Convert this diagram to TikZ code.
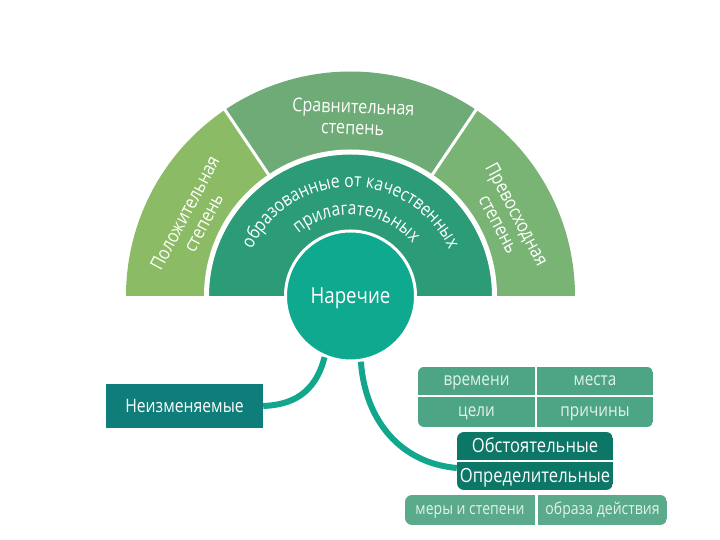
\documentclass[tikz,border=0pt]{standalone}
\usepackage{fontspec}
\setmainfont{Open Sans}[FakeStretch=0.85]
\usetikzlibrary{decorations.text}
\definecolor{secL}{HTML}{8CBB65}
\definecolor{secM}{HTML}{6EAB77}
\definecolor{secR}{HTML}{79B475}
\definecolor{ringc}{HTML}{2C9C78}
\definecolor{circc}{HTML}{0FA98F}
\definecolor{linkc}{HTML}{12A68C}
\definecolor{neizc}{HTML}{0F7D79}
\definecolor{cellc}{HTML}{4EA586}
\definecolor{obstc}{HTML}{0C7667}
\definecolor{lowc}{HTML}{5AAA8B}
\definecolor{celltext}{HTML}{E2F3EB}
\tikzset{
  seclabel/.style={text=white, align=center, font=\fontsize{19}{21}\selectfont, inner sep=0pt},
  vc/.style={text height=#1, text depth=0pt},
  cellbox/.style={vc=9.6pt, fill=cellc, text=celltext, inner sep=0pt, font=\fontsize{18}{18}\selectfont},
  lowbox/.style={vc=8.8pt, fill=lowc, text=celltext, inner sep=0pt, font=\fontsize{16.5}{16.5}\selectfont},
  obstbox/.style={vc=13.9pt, fill=obstc, text=white, inner sep=0pt, minimum width=156pt, minimum height=28pt, font=\fontsize{19.5}{19.5}\selectfont},
  link/.style={draw=linkc, line width=6pt}
}
\begin{document}
\begin{tikzpicture}[x=1pt,y=1pt]
\useasboundingbox (0,0) rectangle (720,540);
\fill[white] (0,0) rectangle (720,540);
% outer sectors
\fill[secR] (350.5,244) -- (575,244) arc (0:56:224.5) -- cycle;
\fill[secM] (350.5,244) -- ++(56:224.5) arc (56:124:224.5) -- cycle;
\fill[secL] (350.5,244) -- ++(124:224.5) arc (124:180:224.5) -- cycle;
\draw[white, line width=3pt] (350.5,244) -- ++(56:228);
\draw[white, line width=3pt] (350.5,244) -- ++(124:228);
% middle ring
\fill[ringc] (209,244) arc (180:0:141.5) -- cycle;
\draw[white, line width=5pt] (206.5,244) arc (180:0:144);
% sector labels
\node[seclabel, rotate=-2] (sr) at (353,423) {Сравнительная\\степень};
\node[seclabel, rotate=62] (pol) at (194,322) {Положительная\\степень};
\node[seclabel, rotate=-62] (prev) at (508,321) {Превосходная\\степень};
% arc text
\path[decorate, decoration={text along path, text align=center,
  text={|\fontsize{18.5}{18.5}\selectfont\color{white}|образованные от качественных}}]
  (241.5,244) arc (180:0:109);
\path[decorate, decoration={text along path, text align=center,
  text={|\fontsize{18.5}{18.5}\selectfont\color{white}|прилагательных}}]
  (269.8,251.1) arc (175:-5:81);
% central circle
\node[circle, vc=15.7pt, fill=circc, draw=white, line width=3pt, minimum size=130pt, inner sep=0pt,
  text=white, font=\fontsize{22}{22}\selectfont] (nar) at (350.5,244) {Наречие};
% left box
\node[vc=13.2pt, fill=neizc, text=white, minimum width=157pt, minimum height=44pt, inner sep=0pt,
  font=\fontsize{18.5}{18.5}\selectfont] (neiz) at (184.5,134) {Неизменяемые};
% grid of cells
\begin{scope}
\clip[rounded corners=6pt] (418,113) rectangle (653,173);
\node[cellbox, minimum width=117pt, minimum height=28pt] (vr) at (476.5,159) {времени};
\node[cellbox, minimum width=116pt, minimum height=28pt] (me) at (595,159) {места};
\node[cellbox, minimum width=117pt, minimum height=30pt] (ce) at (476.5,128) {цели};
\node[cellbox, minimum width=116pt, minimum height=30pt] (pr) at (595,128) {причины};
\end{scope}
\begin{scope}
\clip[rounded corners=7pt] (457,50) rectangle (613,108);
\node[obstbox] (obst) at (535,94) {Обстоятельные};
\node[obstbox] (opr) at (535,64) {Определительные};
\end{scope}
\begin{scope}
\clip[rounded corners=7pt] (405,15) rectangle (667,45);
\node[lowbox, minimum width=130pt, minimum height=30pt] (mery) at (470,30) {меры и степени};
\node[lowbox, minimum width=129pt, minimum height=30pt] (obr) at (602.5,30) {образа действия};
\end{scope}
% connectors
\coordinate (oprin) at ([yshift=8pt]opr.west);
\draw[link] (nar.-113) .. controls (315,145) and (290,135) .. (neiz.east);
\draw[link] (nar.-81) .. controls (365,120) and (400,77) .. (oprin);
\end{tikzpicture}
\end{document}
